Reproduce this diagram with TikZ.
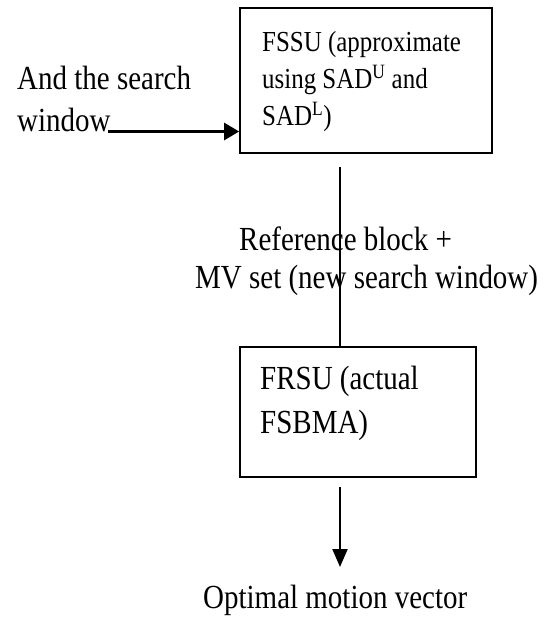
\documentclass[tikz,border=0pt]{standalone}
\usepackage{fontspec}
\setmainfont{Liberation Serif}[FakeStretch=0.86]
\usetikzlibrary{arrows.meta}
\begin{document}
\begin{tikzpicture}[x=1pt,y=-1pt,
  boxnode/.style={draw,line width=1.7pt,inner sep=0pt},
  bigtext/.style={font=\fontsize{33.7}{#1}\selectfont,inner sep=0pt,align=left},
  bigtext/.default=43.5,
  smalltext/.style={font=\fontsize{29}{37}\selectfont,inner sep=0pt,align=left},
  conn/.style={line width=2pt}]
\useasboundingbox[fill=white] (0,0) rectangle (553,618);
% boxes
\node[boxnode,minimum width=252pt,minimum height=145pt] (fssu) at (366,80.7) {};
\node[boxnode,minimum width=236pt,minimum height=130pt] (frsu) at (358,411.7) {};
% texts (base anchor = baseline of the last line)
\node[smalltext,anchor=base west] (fssutext) at (262,125)
  {FSSU (approximate\\using SAD\textsuperscript{U} and\\SAD\textsuperscript{L})};
\node[bigtext=42,anchor=base west] (input) at (17,131) {And the search\\window};
\node[bigtext=38,anchor=base west] (label) at (195,288)
  {\hspace*{44pt}Reference block +\\MV set (new search window)};
\node[bigtext=44,anchor=base west] (frsutext) at (260,433) {FRSU (actual\\FSBMA)};
\node[bigtext,anchor=base west] (out) at (203,608) {Optimal motion vector};
% connectors
\coordinate (win) at (108,131.5);
\draw[line width=2.8pt,-{Triangle[length=15pt,width=17pt]}] (win) -- (win -| fssu.west);
\coordinate (vtop) at (339.5,166.7);
\draw[conn] (vtop) -- (vtop |- frsu.north);
\coordinate (otop) at (340,487);
\coordinate (oend) at (340,567);
\draw[conn,-{Triangle[length=18pt,width=15pt]}] (otop) -- (oend);
\end{tikzpicture}
\end{document}
